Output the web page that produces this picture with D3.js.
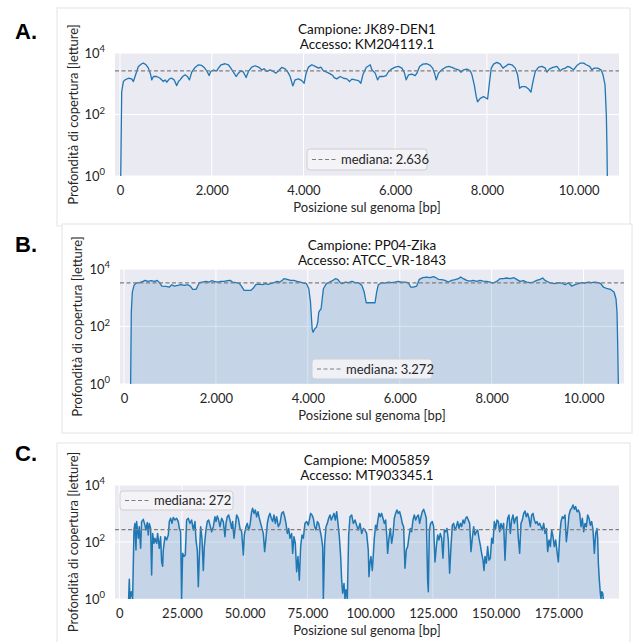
<!DOCTYPE html>
<html>
<head>
<meta charset="utf-8">
<script src="https://cdn.jsdelivr.net/npm/d3@7"></script>
<style>
body{margin:0;background:#fff;}
svg{display:block;}
text{font-family:"Lato","Open Sans",sans-serif;}
</style>
</head>
<body>
<svg id="fig" width="634" height="642"></svg>
<script>
// coverage: position [bp] and depth [reads]
var posA = [15,36,73,109,182,255,291,327,400,473,509,567,618,669,691,727,800,873,945,982,1018,1076,1127,1178,1236,1273,1309,1367,1418,1469,1513,1564,1636,1709,1782,1833,1891,1942,1978,2036,2109,2145,2204,2291,2364,2415,2473,2531,2582,2640,2691,2749,2800,2873,2945,3018,3091,3142,3200,3273,3345,3396,3455,3527,3600,3658,3709,3767,3818,3891,3964,4015,4058,4109,4182,4255,4327,4378,4436,4509,4582,4640,4669,4727,4800,4873,4945,5004,5055,5127,5200,5251,5295,5367,5455,5491,5564,5615,5658,5731,5804,5855,5927,6000,6073,6145,6196,6240,6291,6364,6436,6473,6531,6604,6691,6764,6815,6858,6895,6945,7018,7091,7164,7236,7309,7382,7433,7491,7564,7636,7673,7724,7767,7796,7855,7927,8015,8058,8095,8145,8218,8291,8349,8400,8473,8545,8618,8669,8713,8764,8836,8909,8960,9004,9055,9127,9200,9273,9309,9367,9440,9527,9600,9658,9709,9760,9818,9891,9964,10036,10109,10167,10240,10291,10342,10415,10487,10531,10575,10604,10618,10625];
var depthA = [1,550,1180,1340,1510,1440,1180,1720,3660,4470,4700,4140,3220,1950,1340,1720,1720,1510,1180,1340,1120,1440,1510,1340,870,1180,1340,1720,1950,1720,1340,2380,3390,4140,3940,3390,2640,1850,2510,2770,2640,3220,4140,4470,4140,3220,2380,1720,2210,2640,2380,1590,2510,3480,3850,3480,2840,3060,2510,2840,2510,2210,2640,3390,3060,2380,1720,850,1340,1440,1270,1040,2210,3480,4140,3660,3220,3480,2640,2380,2100,1850,1590,1440,1720,1510,1440,1180,1410,1340,1270,1040,1950,3390,4140,2840,2210,1340,1720,1720,1850,2510,3060,3480,3660,3220,2380,1340,1950,2050,1850,2210,3660,4350,4470,3940,3220,2210,1340,2210,2840,3390,3660,3390,3060,2840,2380,2840,2990,2640,1950,920,380,260,335,380,320,1180,3220,4350,4940,4350,3220,3660,4350,4140,3220,1950,710,810,810,670,530,1180,2510,3480,3660,3220,2380,3060,3390,3660,2640,3060,3220,3660,3390,2840,3940,4700,4700,4140,3660,2840,3220,3220,2840,1950,920,95,7.7,1];

var posB = [144,159,181,217,267,339,412,462,520,592,664,722,773,823,917,989,1040,1097,1170,1242,1314,1386,1444,1495,1567,1603,1639,1711,1783,1856,1906,1964,2036,2108,2180,2253,2310,2361,2433,2505,2556,2614,2686,2758,2816,2866,2939,3011,3083,3133,3191,3263,3336,3393,3444,3480,3552,3624,3697,3769,3841,3913,3971,4022,4058,4094,4115,4152,4188,4216,4238,4260,4289,4310,4339,4404,4476,4549,4599,4650,4707,4744,4816,4888,4960,5032,5105,5177,5227,5271,5321,5462,5498,5534,5607,5679,5752,5825,5897,5970,6042,6115,6187,6238,6296,6369,6427,6499,6586,6659,6731,6789,6840,6913,6985,7058,7130,7203,7275,7326,7384,7457,7529,7602,7674,7747,7819,7892,7964,8037,8110,8182,8255,8327,8400,8487,8545,8617,8690,8762,8835,8907,8980,9053,9111,9161,9234,9306,9379,9452,9524,9597,9669,9742,9814,9887,9959,10032,10104,10177,10249,10322,10373,10431,10518,10590,10663,10706,10728,10743,10757];
var depthB = [1,316,1580,2690,3250,3340,3710,4030,3710,3920,3710,4030,3340,2550,2490,2360,2840,2550,2690,2840,2690,2840,2550,1950,1950,2550,3340,3520,3710,3520,3920,3710,3520,3710,3710,3920,4030,3520,3340,3250,2550,1800,1800,1800,2170,2840,3000,2840,3080,2920,3080,3340,3710,3520,4030,4600,4370,4030,4030,3710,3520,3250,3080,2060,710,83,63,83,95,142,316,361,413,810,2060,3080,3520,4030,4600,4370,3340,3080,3520,3340,3710,3340,3340,2690,1580,670,670,670,1580,2840,3340,3250,3520,3340,3520,3710,3520,3520,3340,2360,2360,2550,4370,4990,5260,4990,5400,4990,4370,4250,4030,3520,4030,4250,4600,5260,4600,4030,3810,4030,3710,4030,3810,3710,3520,3250,3710,4600,4600,4860,4600,4990,4370,3710,3920,3520,3340,3520,4030,4370,4860,4030,3520,3250,3080,3340,3250,2840,3340,2550,2840,3080,3340,3250,3520,3340,3520,3340,3080,2360,2060,1950,1580,920,316,22,1];

var posC = [3720,3990,4250,4780,5320,5850,6250,6650,6910,7580,7970,8510,8900,9570,10230,10630,11160,11560,11960,12490,12890,13290,13820,14220,14880,15280,15950,16480,16880,17280,17540,18210,18870,19540,19940,20470,21000,21530,22190,22860,23520,23920,24450,24850,25250,25780,26310,26850,27510,28170,28840,29500,30170,30570,31100,31500,31900,32430,32960,33490,33890,34550,35090,35620,36150,36810,37480,38140,38540,39070,39600,40140,40800,41460,42130,42530,43060,43590,44120,44790,45190,45720,46250,46780,47450,48110,48770,49440,49840,50500,51030,51570,52100,52760,53160,53690,54220,54750,55290,55820,56350,56880,57410,57940,58480,59010,59540,60070,60600,61130,61670,62200,62730,63390,64060,64720,65390,65920,66450,66980,67510,68040,68710,69110,69640,70170,70700,71230,71770,72300,72830,73360,74030,74690,75350,75750,76280,76820,77350,77880,78410,78940,79470,80010,80540,81070,81340,81870,82400,82930,83460,83990,84520,85060,85590,86120,86650,87180,87710,88250,88640,89040,89570,89970,90370,90900,91440,91970,92630,93300,93960,94620,95290,95950,96620,97280,97950,98600,99260,99530,99930,100330,100860,101260,101660,102190,102590,102990,103520,104050,104580,105110,105640,106180,106710,106970,107500,108040,108570,109100,109630,110160,110690,111230,111760,112290,112820,113350,113880,114410,114950,115480,116010,116540,117070,117600,118140,118670,119200,119730,120260,120790,121330,121860,122390,122920,123190,123590,124120,124780,125310,125840,126380,126910,127440,127970,128500,129030,129570,130100,130630,131160,131690,132220,132760,133290,133820,134350,134880,135410,135940,136480,137010,137540,138070,138600,139130,139670,140200,140730,141260,141790,142320,142860,143390,143920,144450,144980,145380,145780,146310,146840,147370,147910,148440,148970,149500,150030,150560,151100,151630,152160,152690,153220,153750,154290,154820,155350,155880,156410,156940,157470,158010,158540,159070,159600,160130,160660,161200,161730,162260,162790,163320,163850,164390,164920,165450,165980,166510,167040,167580,168110,168640,169170,169700,170230,170770,171300,171830,172360,172890,173420,173960,174490,175020,175550,176080,176610,177150,177680,178210,178740,179270,179800,180330,180870,181400,181930,182460,182990,183520,184050,184590,185120,185650,186180,186710,187240,187780,188310,188840,189370,189900,190430,190700,190970,191360,191760,192030,192300,192690,192960];
var depthC = [1,4.9,1,1.8,1,264,450,52,520,135,345,60,520,620,390,264,480,176,450,300,7,200,90,135,90,200,60,154,20,14,52,154,118,176,520,680,450,730,590,680,520,300,230,1,40,31,35,590,680,450,590,264,520,118,52,2.7,31,345,135,10,69,264,520,590,390,230,345,770,520,820,590,345,680,520,154,450,770,890,590,300,520,135,345,890,680,300,230,35,176,345,450,264,390,1160,1520,1010,1330,770,1160,680,450,300,200,46,135,450,770,1010,680,520,890,450,770,345,450,1010,1160,770,450,200,300,135,200,40,154,90,9.1,31,4.6,69,176,135,450,520,390,590,1010,890,680,345,264,520,450,264,154,69,1,90,345,450,680,890,590,770,1010,590,1160,450,154,31,4.6,1.6,3.5,1,2.1,1,176,770,890,450,590,390,264,450,200,300,264,200,52,6.1,18,31,10,35,135,390,264,520,1010,770,1010,680,450,590,118,40,135,300,90,176,680,1010,1330,1010,1160,770,450,345,12,52,69,154,300,230,590,890,590,770,890,450,770,1160,1400,1010,680,4.6,1.8,264,450,520,345,20,69,176,118,200,135,27,264,230,300,118,8,69,390,450,264,345,520,300,450,345,590,450,680,770,590,450,46,135,345,176,230,264,135,78,40,23,10,31,18,69,23,27,135,90,520,300,590,520,230,450,300,450,23,264,680,890,200,590,890,450,680,770,135,40,450,590,1010,1220,770,1010,680,345,890,1010,590,450,520,390,450,345,264,450,200,300,46,118,69,264,154,69,118,46,20,154,520,770,680,890,103,264,890,1330,1520,1990,1400,1740,1160,1330,1010,345,680,230,450,345,890,680,390,520,264,40,200,300,135,18,4.6,1.6,1,1.8,1.6,1];

var medians = [2636, 3272, 272];
var samples = ["JK89-DEN1", "PP04-Zika", "M005859"];
var accessions = ["KM204119.1", "ATCC_VR-1843", "MT903345.1"];
var ticksDengueZika = [0, 2000, 4000, 6000, 8000, 10000];
var ticksC = [0, 25000, 50000, 75000, 100000, 125000, 150000, 175000];
var yTicks = [1, 100, 10000];

var itFormat = d3.formatLocale({decimal: ",", thousands: ".", grouping: [3], currency: ["€", ""]});
var fmtInt = itFormat.format(",d");

var svg = d3.select("svg#fig");

var drawPanel = function(p)
{
  // card
  svg.append("rect")
     .attr("x", p.card[0]).attr("y", p.card[1])
     .attr("width", p.card[2]).attr("height", p.card[3])
     .attr("fill", "#fff").attr("stroke", "#e4e4e4");

  svg.append("text")
     .attr("x", 15).attr("y", p.letterY)
     .style("font-family", "'Liberation Sans', Arial, sans-serif")
     .style("font-weight", "bold").style("font-size", "22px")
     .attr("fill", "#000")
     .text(p.letter);

  var w = p.plot[2], h = p.plot[3];
  var plot = svg.append("g")
                .attr("transform", "translate(" + p.plot[0] + "," + p.plot[1] + ")");

  var xScale = d3.scaleLinear().domain(p.xDomain).range([0, w]);
  var yScale = d3.scaleLog().domain([1, 10000]).range([h, 0]);

  plot.append("rect").attr("width", w).attr("height", h).attr("fill", "#eaeaf2");

  var clipId = "clip" + p.letter.charAt(0);
  plot.append("clipPath").attr("id", clipId)
      .append("rect").attr("width", w).attr("height", h);

  // grid
  plot.selectAll("line.vgrid").data(p.xTicks).enter().append("line")
      .classed("vgrid", true)
      .attr("x1", function(d){return xScale(d);}).attr("x2", function(d){return xScale(d);})
      .attr("y1", 0).attr("y2", h)
      .attr("stroke", "#fff").attr("stroke-width", 1);
  plot.selectAll("line.hgrid").data(yTicks).enter().append("line")
      .classed("hgrid", true)
      .attr("x1", 0).attr("x2", w)
      .attr("y1", function(d){return yScale(d);}).attr("y2", function(d){return yScale(d);})
      .attr("stroke", "#fff").attr("stroke-width", 1);

  var pts = p.pos.map(function(d, i){return [d, p.depth[i]];});
  var marks = plot.append("g").attr("clip-path", "url(#" + clipId + ")");

  if (p.fill)
  {
    var area = d3.area()
                 .x(function(d){return xScale(d[0]);})
                 .y0(h)
                 .y1(function(d){return yScale(d[1]);});
    marks.append("path").datum(pts)
         .attr("d", area)
         .attr("fill", "#1f77b4").attr("fill-opacity", 0.18);
  }

  var line = d3.line()
               .x(function(d){return xScale(d[0]);})
               .y(function(d){return yScale(d[1]);});
  marks.append("path").datum(pts)
       .attr("d", line)
       .attr("fill", "none")
       .attr("stroke", "#1f77b4").attr("stroke-width", p.lineW)
       .attr("stroke-linejoin", "round");

  marks.append("line")
       .attr("x1", 0).attr("x2", w)
       .attr("y1", yScale(p.median)).attr("y2", yScale(p.median))
       .attr("stroke", "#7f7f7f").attr("stroke-width", 1.2)
       .attr("stroke-dasharray", "4,2.5");

  // axes
  var xAxis = d3.axisBottom(xScale).tickValues(p.xTicks).tickFormat(fmtInt).tickSize(0).tickPadding(10);
  var gx = plot.append("g").attr("transform", "translate(0," + h + ")").call(xAxis);
  gx.select(".domain").remove();
  gx.selectAll("text").style("font-size", "13px").attr("fill", "#262626").style("font-family", null);

  var yAxis = d3.axisLeft(yScale).tickValues(yTicks).tickSize(0).tickPadding(10);
  var gy = plot.append("g").call(yAxis);
  gy.select(".domain").remove();
  gy.selectAll("text")
    .style("font-size", "13px").attr("fill", "#262626").style("font-family", null)
    .each(function(d){
      var t = d3.select(this);
      t.text("10");
      t.append("tspan").attr("dy", "-0.55em").style("font-size", "9.5px").text(Math.round(Math.log10(d)));
    });

  // titles
  svg.append("text")
     .attr("x", p.plot[0] + w / 2).attr("y", p.titleY)
     .attr("text-anchor", "middle").style("font-size", "13.5px").attr("fill", "#111")
     .text("Campione: " + p.sample);
  svg.append("text")
     .attr("x", p.plot[0] + w / 2).attr("y", p.titleY + p.titleGap)
     .attr("text-anchor", "middle").style("font-size", "13.5px").attr("fill", "#111")
     .text("Accesso: " + p.accession);

  svg.append("text")
     .attr("x", p.plot[0] + w / 2).attr("y", p.plot[1] + h + 36)
     .attr("text-anchor", "middle").style("font-size", "13px").attr("fill", "#262626")
     .text("Posizione sul genoma [bp]");

  svg.append("text")
     .attr("transform", "translate(" + p.yLabelX + "," + (p.plot[1] + h / 2) + ") rotate(-90)")
     .attr("text-anchor", "middle").style("font-size", "13px").attr("fill", "#262626")
     .text("Profondità di copertura [letture]");

  // legend
  var leg = svg.append("g").attr("transform", "translate(" + p.legend[0] + "," + p.legend[1] + ")");
  leg.append("rect")
     .attr("width", p.legend[2]).attr("height", p.legend[3])
     .attr("rx", 3)
     .attr("fill", "#f4f4f8").attr("fill-opacity", 0.9)
     .attr("stroke", "#d0d0d0");
  leg.append("line")
     .attr("x1", 5).attr("x2", 29)
     .attr("y1", p.legend[3] / 2).attr("y2", p.legend[3] / 2)
     .attr("stroke", "#7f7f7f").attr("stroke-width", 1.2)
     .attr("stroke-dasharray", "4,2.5");
  leg.append("text")
     .attr("x", 34).attr("y", p.legend[3] / 2 + 4.5)
     .style("font-size", "13px").attr("fill", "#262626")
     .text("mediana: " + fmtInt(p.median));
}

drawPanel({
  letter: "A.", letterY: 39,
  card: [57, 8, 573, 218],
  plot: [115, 53, 504, 123],
  xDomain: [-110, 10880], xTicks: ticksDengueZika,
  pos: posA, depth: depthA, fill: false, lineW: 1.3,
  median: medians[0], sample: samples[0], accession: accessions[0],
  titleY: 34, titleGap: 15, yLabelX: 78,
  legend: [307, 149, 120, 21]
});

drawPanel({
  letter: "B.", letterY: 252,
  card: [62, 224, 570, 209],
  plot: [120, 269, 504, 115],
  xDomain: [-87, 10880], xTicks: ticksDengueZika,
  pos: posB, depth: depthB, fill: true, lineW: 1.3,
  median: medians[1], sample: samples[1], accession: accessions[1],
  titleY: 250, titleGap: 15, yLabelX: 82,
  legend: [312, 359, 120, 20]
});

drawPanel({
  letter: "C.", letterY: 461,
  card: [57, 443, 573, 210],
  plot: [115, 485, 504, 114],
  xDomain: [-1710, 199200], xTicks: ticksC,
  pos: posC, depth: depthC, fill: true, lineW: 1.5,
  median: medians[2], sample: samples[2], accession: accessions[2],
  titleY: 465, titleGap: 15, yLabelX: 78,
  legend: [120, 491, 113, 19]
});
</script>
</body>
</html>
